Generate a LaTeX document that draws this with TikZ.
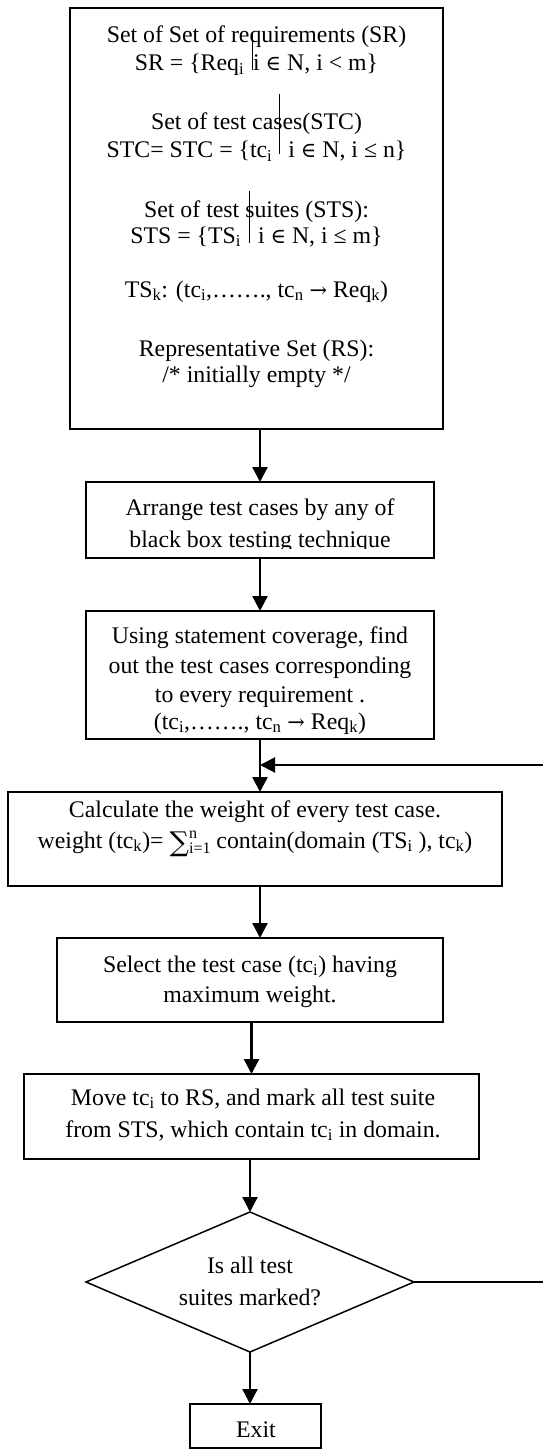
\documentclass[tikz,border=0pt]{standalone}
\usepackage{fontspec}
\setmainfont{Liberation Serif}
\newfontfamily\symfont{DejaVu Serif}[Scale=0.88]
\usetikzlibrary{arrows.meta,shapes.geometric}

\newcommand\bodysize{\fontsize{23.8}{28}\selectfont}
% tall bar of the set-builder notation: height, raise
\newcommand\setbar[2]{\smash{\rule[#2pt]{1pt}{#1pt}}}
\newcommand\elem{{\symfont ∈}}
\newcommand\maps{{\symfont →}}
\newcommand\lowtxt[1]{\textsubscript{#1}}
% summation sign with its limits set to the right
\newcommand\sumsign[2]{\raisebox{-3pt}{\symfont\fontsize{31}{28}\selectfont ∑}%
  \rlap{\raisebox{10pt}{\fontsize{16}{16}\selectfont #1}}%
  \raisebox{-5pt}{\fontsize{16}{16}\selectfont #2}}

\begin{document}
\begin{tikzpicture}[x=1pt,y=-1pt,
  stepbox/.style={draw, line width=2pt, inner sep=0pt, outer sep=0pt},
  decision/.style={draw, diamond, line width=1.5pt, inner sep=0pt, outer sep=0pt},
  txt/.style={font=\bodysize, inner sep=0pt, anchor=base},
  flow/.style={line width=2.4pt, -{Triangle[length=15pt,width=15pt]}},
  link/.style={line width=2pt}]
\useasboundingbox (0,0) rectangle (542,1450);

% boxes
\node[stepbox, minimum width=373pt, minimum height=421pt] (b1) at (256.5,218.5) {};
\node[stepbox, minimum width=348pt, minimum height=76pt]  (b2) at (260,520) {};
\node[stepbox, minimum width=348pt, minimum height=128pt] (b3) at (260,675) {};
\node[stepbox, minimum width=494pt, minimum height=94pt]  (b4) at (255,839) {};
\node[stepbox, minimum width=386pt, minimum height=84pt]  (b5) at (250,980) {};
\node[stepbox, minimum width=455pt, minimum height=85pt]  (b6) at (251.5,1116.5) {};
\node[decision, minimum width=328pt, minimum height=140pt] (d) at (250,1282) {};
\node[stepbox, minimum width=131pt, minimum height=44pt]  (ex) at (255.5,1426) {};

% sets
\node[txt] (t11) at (256.5,43)  {Set of Set of requirements (SR)};
\node[txt] (t12) at (256.5,71)  {SR = \{Req\lowtxt{i}\hspace{8pt}\setbar{38}{1}i \elem{} N, i < m\}};
\node[txt] (t13) at (256.5,130) {Set of test cases(STC)};
\node[txt] (t14) at (256.5,158) {STC= STC = \{tc\lowtxt{i}\hspace{7pt}\setbar{60}{4}\hspace{8pt}i \elem{} N, i ≤ n\}};
\node[txt] (t15) at (256.5,218) {Set of test suites (STS):};
\node[txt] (t16) at (256.5,243) {STS = \{TS\lowtxt{i}\hspace{8pt}\setbar{52}{0}\hspace{8pt}i \elem{} N, i ≤ m\}};
\node[txt] (t17) at (256.5,297) {TS\lowtxt{k}: (tc\lowtxt{i},……., tc\lowtxt{n} \maps{} Req\lowtxt{k})};
\node[txt] (t18) at (256.5,356) {Representative Set (RS):};
\node[txt] (t19) at (256.5,382) {/* initially empty */};

% ordering step (text cut off at the inner margin)
\begin{scope}
  \clip (86,482) rectangle (434,548.5);
  \node[txt] (t21) at (260,515) {Arrange test cases by any of};
  \node[txt] (t22) at (260,547) {black box testing technique};
\end{scope}

\node[txt] (t31) at (260,643) {Using statement coverage, find};
\node[txt] (t32) at (260,673) {out the test cases corresponding};
\node[txt] (t33) at (260,702) {to every requirement .};
\node[txt] (t34) at (260,729) {(tc\lowtxt{i},……., tc\lowtxt{n} \maps{} Req\lowtxt{k})};

\node[txt] (t41) at (255,817) {Calculate the weight of every test case.};
\node[txt] (t42) at (255,848) {weight (tc\lowtxt{k})= \sumsign{n}{i=1} contain(domain (TS\lowtxt{i} ), tc\lowtxt{k})};

\node[txt] (t51) at (250,972)  {Select the test case (tc\lowtxt{i}) having};
\node[txt] (t52) at (250,1002) {maximum weight.};

\node[txt] (t61) at (253,1105) {Move tc\lowtxt{i} to RS, and mark all test suite};
\node[txt] (t62) at (253,1137) {from STS, which contain tc\lowtxt{i} in domain.};

\node[txt] (t71) at (250,1273) {Is all test};
\node[txt] (t72) at (250,1305) {suites marked?};

\node[txt] (t81) at (256,1437) {Exit};

% connectors
\coordinate (j)  at (260,765);
\coordinate (fb) at (548,1282);
\draw[flow] (b2.north |- b1.south) -- (b2.north);
\draw[flow] (b2.south) -- (b3.north);
\draw[flow] (b3.south) -- (b3.south |- b4.north);
\draw[flow] (b3.south |- b4.south) -- (b3.south |- b5.north);
\draw[flow] (b6.north |- b5.south) -- (b6.north);
\draw[flow] (d.north |- b6.south) -- (d.north);
\draw[flow] (d.south) -- (d.south |- ex.north);
\draw[link, -{Triangle[length=15pt,width=15pt]}] (d.east) -- (fb) |- (j);
\end{tikzpicture}
\end{document}
